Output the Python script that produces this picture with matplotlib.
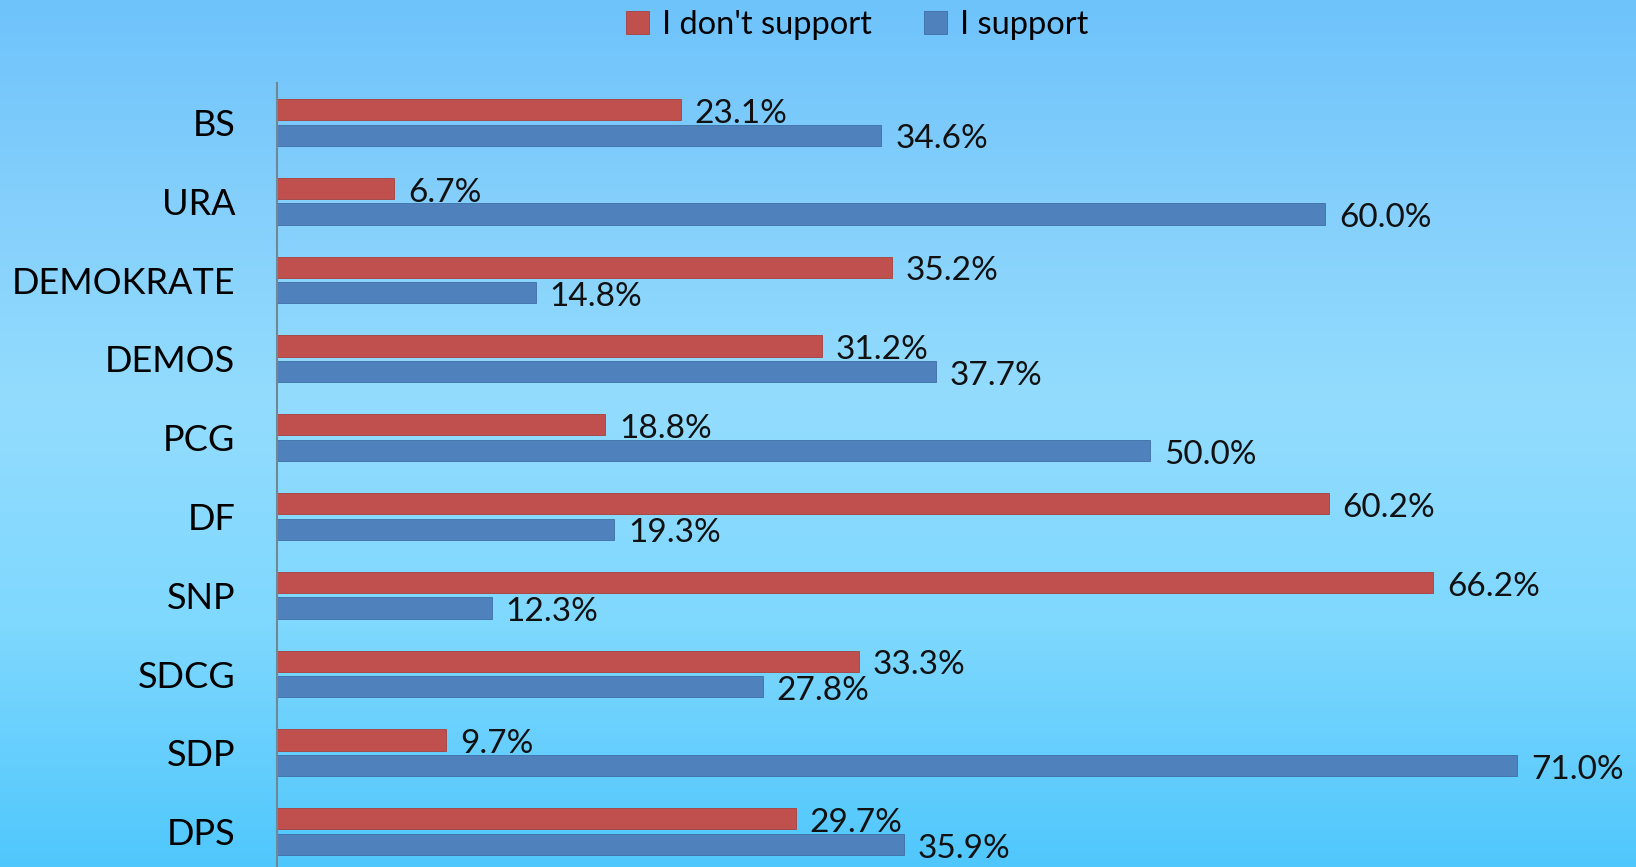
import numpy as np
import matplotlib.pyplot as plt
from matplotlib.colors import LinearSegmentedColormap

# data (top to bottom)
parties = ['BS', 'URA', 'DEMOKRATE', 'DEMOS', 'PCG', 'DF', 'SNP', 'SDCG', 'SDP', 'DPS']
dont_support = [23.1, 6.7, 35.2, 31.2, 18.8, 60.2, 66.2, 33.3, 9.7, 29.7]
support = [34.6, 60.0, 14.8, 37.7, 50.0, 19.3, 12.3, 27.8, 71.0, 35.9]

red = '#C0504D'
blue = '#4F81BD'

plt.rcParams['font.family'] = ['Lato', 'DejaVu Sans']

fig = plt.figure(figsize=(16.36, 8.67), dpi=100)

# background gradient
bg = fig.add_axes([0, 0, 1, 1], zorder=-10)
cmap = LinearSegmentedColormap.from_list(
    'bg', [(0.0, '#6EC3FB'), (0.23, '#84CFFC'), (0.46, '#93DCFE'),
           (0.72, '#7FD8FE'), (1.0, '#50C7FC')])
grad = np.linspace(0, 1, 256).reshape(-1, 1)
bg.imshow(grad, aspect='auto', cmap=cmap, extent=[0, 1, 1, 0])
bg.set_axis_off()

ax = fig.add_axes([277 / 1636, -4 / 867, 1 - 277 / 1636, (867 - 83 + 4) / 867])
ax.patch.set_alpha(0)

y = np.arange(len(parties))
h = 0.27
off = 0.162
b1 = ax.barh(y - off, dont_support, height=h, color=red, edgecolor='#A9403D',
             linewidth=0.6, label="I don't support")
b2 = ax.barh(y + off, support, height=h, color=blue, edgecolor='#3F6EA5',
             linewidth=0.6, label='I support')

for bars, vals in [(b1, dont_support), (b2, support)]:
    for rect, v in zip(bars, vals):
        ax.annotate(f'{v:.1f}%', (rect.get_width(), rect.get_y() + rect.get_height() / 2),
                    xytext=(10, -3), textcoords='offset points', va='center', ha='left',
                    fontsize=24, color='#111111')

ax.set_xlim(0, 77.8)
ax.set_ylim(len(parties) - 0.5, -0.5)
ax.set_yticks(y)
ax.set_yticklabels(parties, fontsize=26)
ax.tick_params(axis='y', length=0, pad=30)
ax.set_xticks([])
for s in ['top', 'right', 'bottom']:
    ax.spines[s].set_visible(False)
ax.spines['left'].set_color('#6F8796')
ax.spines['left'].set_linewidth(1.5)

fig.legend(handles=[b1, b2], loc='upper center', bbox_to_anchor=(0.524, 1.022), ncol=2,
           frameon=False, fontsize=23.5, handlelength=0.7, handleheight=0.7,
           handletextpad=0.4, columnspacing=1.6)

fig.savefig('out.png', dpi=100)
